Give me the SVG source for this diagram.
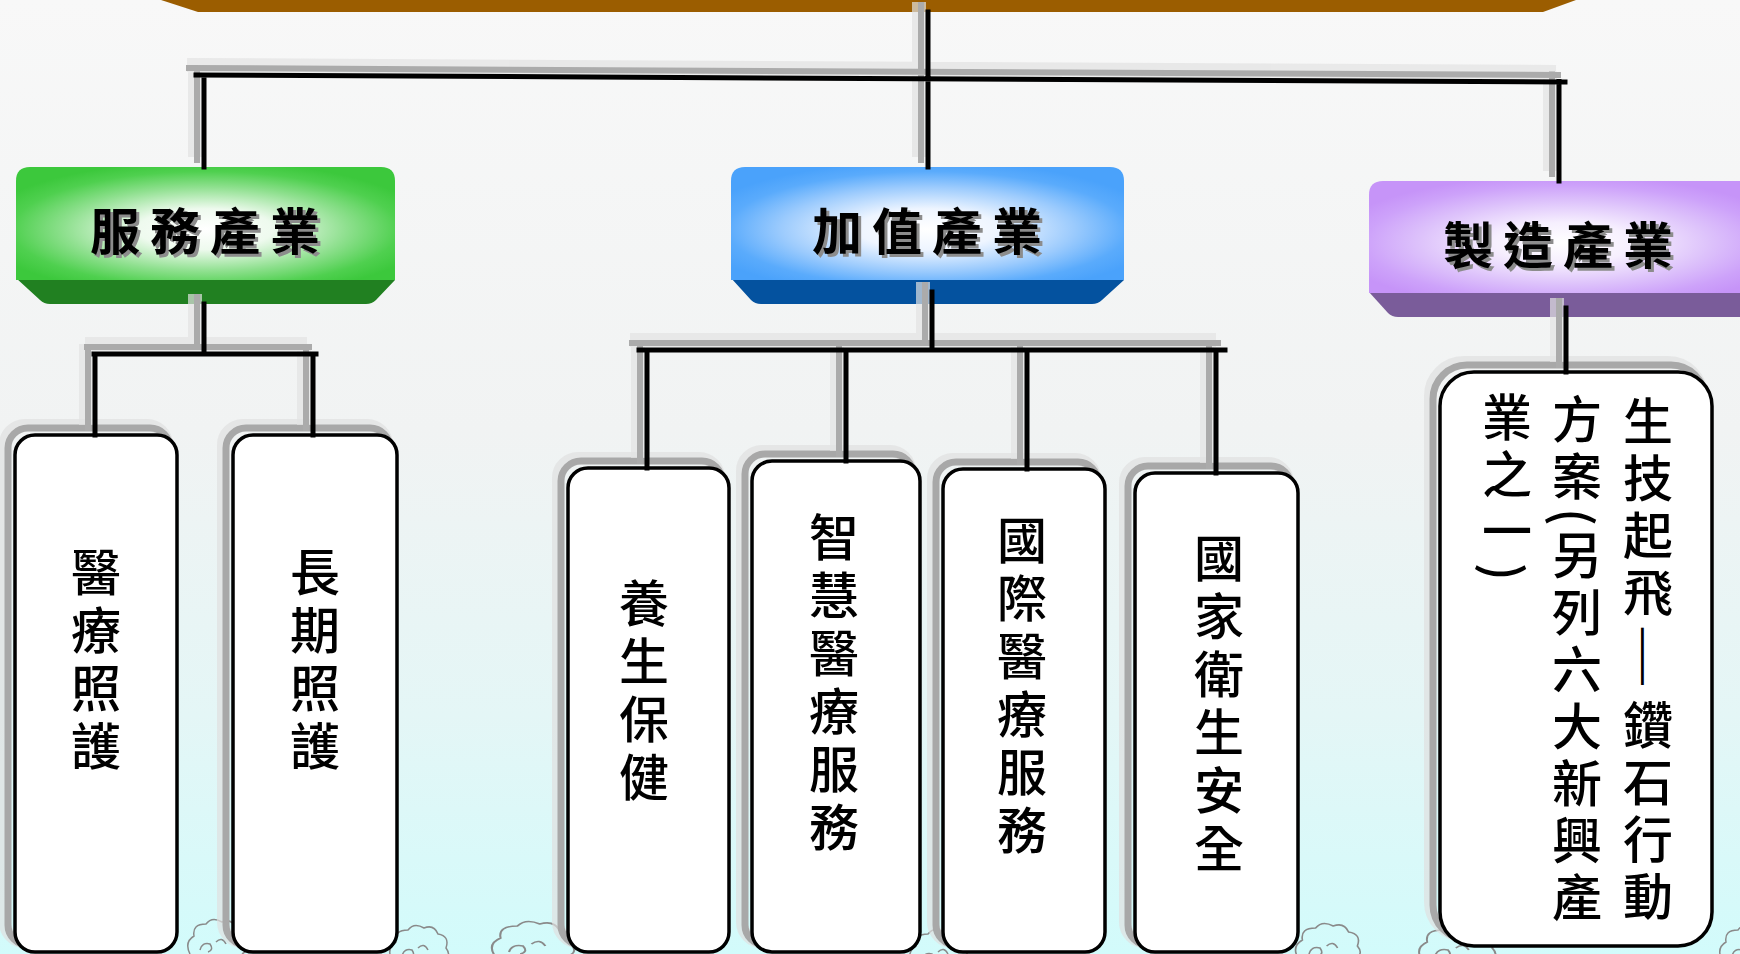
<svg xmlns="http://www.w3.org/2000/svg" width="1740" height="954" viewBox="0 0 1740 954">
<defs>
  <linearGradient id="bg" x1="0" y1="0" x2="0" y2="1">
    <stop offset="0" stop-color="#f8f8f8"/>
    <stop offset="0.45" stop-color="#f1f3f3"/>
    <stop offset="0.75" stop-color="#e4f6f6"/>
    <stop offset="1" stop-color="#d2fbfb"/>
  </linearGradient>
  <radialGradient id="gG" cx="0.5" cy="0.55" r="0.6">
    <stop offset="0" stop-color="#ffffff"/>
    <stop offset="0.3" stop-color="#eefaee"/>
    <stop offset="0.62" stop-color="#8fe08f"/>
    <stop offset="0.85" stop-color="#4fd04f"/>
    <stop offset="1" stop-color="#3cc83c"/>
  </radialGradient>
  <radialGradient id="gB" cx="0.5" cy="0.55" r="0.6">
    <stop offset="0" stop-color="#ffffff"/>
    <stop offset="0.3" stop-color="#eef5ff"/>
    <stop offset="0.62" stop-color="#9ccbfd"/>
    <stop offset="0.85" stop-color="#5aabfc"/>
    <stop offset="1" stop-color="#4aa2fb"/>
  </radialGradient>
  <radialGradient id="gP" cx="0.5" cy="0.55" r="0.6">
    <stop offset="0" stop-color="#ffffff"/>
    <stop offset="0.3" stop-color="#f6effe"/>
    <stop offset="0.62" stop-color="#ddc2fb"/>
    <stop offset="0.85" stop-color="#cda2fa"/>
    <stop offset="1" stop-color="#c694f8"/>
  </radialGradient>
  <path id="cRoot" d="M928,12 V167 M196,75 L1565,82 M204,75.5 V167 M1559,81.5 V181"/>
  <path id="cServ" d="M204,304 V354 M94,354 H316 M95,354 V435 M313,354 V435"/>
  <path id="cVal" d="M932,292 V350 M639,350 H1225 M647,350 V468 M846,350 V461 M1027,350 V469 M1216,350 V473"/>
  <path id="cMfg" d="M1566,308 V372"/>
  <path id="cloud" d="M0,34 q-6,-12 4,-18 q-2,-12 12,-12 q6,-8 16,-2 q10,-4 14,6 q12,2 8,14 q6,8 -2,12 M10,30 q2,-8 10,-6 q4,6 -2,8 M26,22 q6,-6 10,2"/>
</defs>
<style>
  .vt { font-family: "Noto Sans CJK TC", "Noto Sans CJK SC", sans-serif; font-size: 50px; font-weight: 500; writing-mode: vertical-rl; letter-spacing: 8px; fill: #000; }
  .v7 { letter-spacing: 7px; }
  .dash { letter-spacing: 0px; font-size: 36px; }
  .ht { font-family: "Noto Sans CJK TC", "Noto Sans CJK SC", sans-serif; font-size: 50px; font-weight: 700; letter-spacing: 10px; text-anchor: middle; dominant-baseline: central; fill: #000; }
  .hs { fill: #8c8c8c; }
  .box { fill: #fff; stroke: #000; stroke-width: 3.5; }
  .bsh { fill: none; stroke: #a8a8a8; stroke-width: 7; }
  .bhalo { fill: none; stroke: #e0e0e0; stroke-width: 12; opacity: 0.7; }
  .cl { fill: none; stroke: #000; stroke-width: 5; stroke-linecap: square; }
  .csh { fill: none; stroke: #ababab; stroke-width: 6; stroke-linecap: square; }
  .chalo { fill: none; stroke: #e2e2e2; stroke-width: 14; opacity: 0.7; }
  .cld { fill: none; stroke: #8a8a8a; stroke-width: 1.5; }
</style>

<rect x="0" y="0" width="1740" height="954" fill="url(#bg)"/>

<g id="decor" class="cld">
  <use href="#cloud" transform="translate(190,920)"/>
  <use href="#cloud" transform="translate(392,926)"/>
  <use href="#cloud" transform="translate(495,922) scale(1.4,1)"/>
  <use href="#cloud" transform="translate(912,930)"/>
  <use href="#cloud" transform="translate(1298,924) scale(1.1,1)"/>
  <use href="#cloud" transform="translate(1422,926) scale(1.3,1)"/>
  <use href="#cloud" transform="translate(1722,926)"/>
</g>

<g id="banner">
  <polygon points="161,0 1576,0 1543,12 198,12" fill="#9b5d00"/>
</g>

<g id="n-service">
  <path d="M16,266 L16,278 L40,300 Q44,304 50,304 L366,304 Q372,304 376,300 L395,280 L395,266 Z" fill="#218021"/>
  <path d="M30,167 H381 Q395,167 395,181 V280 H16 V181 Q16,167 30,167 Z" fill="url(#gG)"/>
  <text class="ht hs" x="213" y="231">服務產業</text>
  <text class="ht" x="210" y="228">服務產業</text>
</g>

<g id="n-value">
  <path d="M731,266 L731,278 L751,300 Q755,304 761,304 L1092,304 Q1098,304 1102,300 L1124,280 L1124,266 Z" fill="#04529f"/>
  <path d="M745,167 H1110 Q1124,167 1124,181 V280 H731 V181 Q731,167 745,167 Z" fill="url(#gB)"/>
  <text class="ht hs" x="935" y="231">加值產業</text>
  <text class="ht" x="932" y="228">加值產業</text>
</g>

<g id="n-mfg">
  <path d="M1369,280 L1369,292 L1388,313 Q1392,317 1398,317 L1760,317 L1760,280 Z" fill="#7a5c9a"/>
  <path d="M1383,181 H1760 V293 H1369 V195 Q1369,181 1383,181 Z" fill="url(#gP)"/>
  <text class="ht hs" x="1566" y="245">製造產業</text>
  <text class="ht" x="1563" y="242">製造產業</text>
</g>

<g id="n-medcare">
  <rect class="bhalo" x="5" y="425" width="162" height="517" rx="20"/>
  <rect class="bsh" x="8" y="428" width="162" height="517" rx="20"/>
  <rect class="box" x="15" y="435" width="162" height="517" rx="20"/>
  <text class="vt" x="96" y="547">醫療照護</text>
</g>

<g id="n-ltc">
  <rect class="bhalo" x="223" y="425" width="164" height="517" rx="20"/>
  <rect class="bsh" x="226" y="428" width="164" height="517" rx="20"/>
  <rect class="box" x="233" y="435" width="164" height="517" rx="20"/>
  <text class="vt" x="315" y="547">長期照護</text>
</g>

<g id="n-wellness">
  <rect class="bhalo" x="558" y="458" width="161" height="484" rx="20"/>
  <rect class="bsh" x="561" y="461" width="161" height="484" rx="20"/>
  <rect class="box" x="568" y="468" width="161" height="484" rx="20"/>
  <text class="vt" x="644" y="578">養生保健</text>
</g>

<g id="n-smart">
  <rect class="bhalo" x="742" y="451" width="168" height="491" rx="20"/>
  <rect class="bsh" x="745" y="454" width="168" height="491" rx="20"/>
  <rect class="box" x="752" y="461" width="168" height="491" rx="20"/>
  <text class="vt" x="834" y="512">智慧醫療服務</text>
</g>

<g id="n-intl">
  <rect class="bhalo" x="933" y="459" width="162" height="483" rx="20"/>
  <rect class="bsh" x="936" y="462" width="162" height="483" rx="20"/>
  <rect class="box" x="943" y="469" width="162" height="483" rx="20"/>
  <text class="vt" x="1022" y="515">國際醫療服務</text>
</g>

<g id="n-health">
  <rect class="bhalo" x="1125" y="463" width="163" height="479" rx="20"/>
  <rect class="bsh" x="1128" y="466" width="163" height="479" rx="20"/>
  <rect class="box" x="1135" y="473" width="163" height="479" rx="20"/>
  <text class="vt" x="1219" y="533">國家衛生安全</text>
</g>

<g id="n-biotech">
  <rect class="bhalo" x="1430" y="362" width="272" height="574" rx="34"/>
  <rect class="bsh" x="1433" y="365" width="272" height="574" rx="34"/>
  <rect class="box" x="1440" y="372" width="272" height="574" rx="34"/>
  <text class="vt v7" x="1648" y="396">生技起飛<tspan class="dash" y="626">——</tspan><tspan y="700">鑽石行動</tspan></text>
  <text class="vt v7" x="1577" y="394">方案(<tspan y="530">另列六大新興產</tspan></text>
  <text class="vt v7" x="1507" y="392">業之一)</text>
</g>

<g id="connectors">
  <g transform="translate(-9,-10)" class="chalo">
    <use href="#cRoot"/><use href="#cServ"/><use href="#cVal"/><use href="#cMfg"/>
  </g>
  <g transform="translate(-7,-7)" class="csh">
    <use href="#cRoot"/><use href="#cServ"/><use href="#cVal"/><use href="#cMfg"/>
  </g>
  <g class="cl">
    <use href="#cRoot"/><use href="#cServ"/><use href="#cVal"/><use href="#cMfg"/>
  </g>
</g>
</svg>
